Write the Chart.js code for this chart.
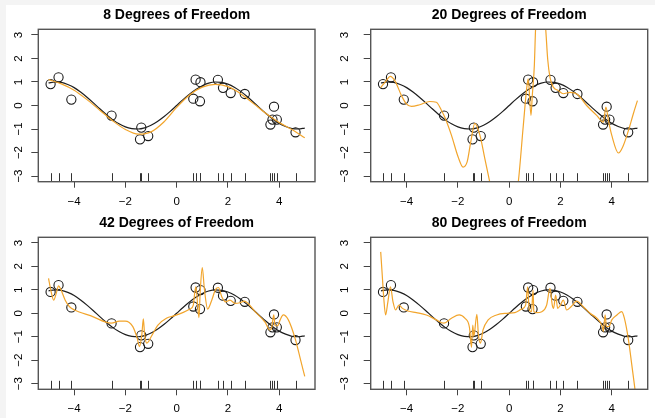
<!DOCTYPE html>
<html><head><meta charset="utf-8">
<script src="https://cdn.jsdelivr.net/npm/chart.js@4.4.1/dist/chart.umd.min.js"></script>
<style>
html,body{margin:0;padding:0;background:#f4f4f4;}
#page{position:absolute;left:0;top:0;width:655px;height:418px;overflow:hidden;}
#white{position:absolute;left:6px;top:5px;width:649px;height:413px;background:#fff;}
canvas{position:absolute;}
</style></head><body>
<div id="page"><div id="white"></div>
<canvas id="c0" width="327" height="209" style="left:0;top:0"></canvas>
<canvas id="c1" width="328" height="209" style="left:327px;top:0"></canvas>
<canvas id="c2" width="327" height="209" style="left:0;top:209px"></canvas>
<canvas id="c3" width="328" height="209" style="left:327px;top:209px"></canvas>
</div>
<script>
// ---------- data ----------
const titles = ["8 Degrees of Freedom", "20 Degrees of Freedom", "42 Degrees of Freedom", "80 Degrees of Freedom"];
const X_TICKS = [-4, -2, 0, 2, 4];
const Y_TICKS = [-3, -2, -1, 0, 1, 2, 3];

const pointX = [-4.92, -4.61, -4.11, -2.54, -1.43, -1.38, -1.11, 0.65, 0.74, 0.91, 0.93, 1.61, 1.81, 2.11, 2.66, 3.66, 3.74, 3.80, 3.91, 4.64];
const pointY = [0.91, 1.20, 0.25, -0.43, -1.44, -0.94, -1.30, 0.29, 1.10, 0.18, 0.99, 1.09, 0.75, 0.53, 0.49, -0.81, -0.60, -0.05, -0.60, -1.14];

const truthX = [-5, -4.75, -4.5, -4.25, -4, -3.75, -3.5, -3.25, -3, -2.75, -2.5, -2.25, -2, -1.75, -1.5, -1.25, -1, -0.75, -0.5, -0.25, 0, 0.25, 0.5, 0.75, 1, 1.25, 1.5, 1.75, 2, 2.25, 2.5, 2.75, 3, 3.25, 3.5, 3.75, 4, 4.25, 4.5, 4.75, 5];
const truthY = [0.96, 1.00, 0.98, 0.89, 0.76, 0.57, 0.35, 0.11, -0.14, -0.38, -0.60, -0.78, -0.91, -0.98, -1.00, -0.95, -0.84, -0.68, -0.48, -0.25, 0, 0.25, 0.48, 0.68, 0.84, 0.95, 1.00, 0.98, 0.91, 0.78, 0.60, 0.38, 0.14, -0.11, -0.35, -0.57, -0.76, -0.89, -0.98, -1.00, -0.96];

const fit8X = [-5, -4.5, -4, -3.5, -3, -2.5, -2, -1.5, -1, -0.5, 0, 0.5, 1, 1.5, 2, 2.5, 3, 3.5, 4, 4.5, 5];
const fit8Y = [1.10, 0.92, 0.65, 0.25, -0.20, -0.65, -1.02, -1.22, -1.12, -0.70, -0.08, 0.45, 0.78, 0.90, 0.80, 0.50, 0.08, -0.35, -0.72, -1.02, -1.37];

const fit20X = [-5.01, -4.79, -4.64, -4.46, -4.20, -4.01, -3.81, -3.49, -3.10, -2.84, -2.64, -2.51, -2.25, -1.99, -1.80, -1.64, -1.50, -1.34, -1.14, -0.95, -0.75, -0.5, -0.2, 0.1, 0.35, 0.55, 0.68, 0.74, 0.85, 0.90, 0.98, 1.03, 1.2, 1.42, 1.50, 1.59, 1.72, 1.91, 2.11, 2.37, 2.67, 3.02, 3.41, 3.67, 3.77, 3.87, 4.00, 4.26, 4.45, 4.65, 4.84, 5.0];
const fit20Y = [0.76, 1.06, 1.24, 1.06, 0.42, 0.07, -0.04, 0.03, 0.17, 0.14, -0.21, -0.50, -1.27, -2.19, -2.62, -2.40, -1.56, -0.76, -1.27, -2.26, -3.30, -4.6, -5.6, -5.0, -3.30, -0.85, 0.71, 1.13, -0.42, 0.42, 1.70, 3.30, 5.6, 3.30, 1.98, 1.20, 0.78, 0.64, 0.50, 0.56, 0.47, 0.0, -0.42, -0.71, -0.07, -0.64, -1.27, -2.02, -1.70, -1.06, -0.35, 0.21];

const fit42X = [-5.0, -4.90, -4.80, -4.70, -4.61, -4.51, -4.35, -4.18, -3.98, -3.34, -2.55, -2.23, -2.01, -1.71, -1.54, -1.45, -1.36, -1.30, -1.25, -1.16, -0.99, -0.73, -0.40, -0.08, 0.26, 0.52, 0.65, 0.71, 0.75, 0.87, 0.92, 1.00, 1.08, 1.21, 1.37, 1.52, 1.63, 1.76, 1.91, 2.08, 2.28, 2.47, 2.64, 3.06, 3.45, 3.64, 3.71, 3.79, 3.84, 3.94, 4.04, 4.16, 4.36, 4.62, 4.82, 5.0];
const fit42Y = [1.49, 0.92, 0.56, 0.85, 1.17, 0.99, 0.56, 0.28, 0.14, -0.11, -0.42, -0.33, -0.33, -0.57, -1.06, -1.42, -0.92, -0.24, -0.92, -1.27, -0.99, -0.50, -0.21, -0.10, 0.04, 0.18, 0.35, 0.92, 1.13, -0.19, 0.92, 1.95, 1.06, 0.18, 0.56, 1.02, 1.10, 0.71, 0.49, 0.56, 0.42, 0.45, 0.52, 0.07, -0.38, -0.71, -0.61, -0.07, -0.53, -0.53, -0.28, -0.07, -0.28, -1.06, -1.91, -2.69];

const fit80X = [-5.01, -4.95, -4.89, -4.82, -4.73, -4.63, -4.53, -4.43, -4.30, -4.16, -3.95, -3.62, -3.23, -2.84, -2.55, -2.25, -1.95, -1.73, -1.55, -1.47, -1.42, -1.38, -1.26, -1.20, -1.12, -1.02, -0.82, -0.49, -0.10, 0.22, 0.48, 0.64, 0.72, 0.78, 0.87, 0.93, 0.96, 1.07, 1.27, 1.46, 1.59, 1.68, 1.73, 1.81, 1.89, 1.98, 2.11, 2.24, 2.41, 2.63, 2.89, 3.15, 3.41, 3.63, 3.67, 3.74, 3.79, 3.90, 4.00, 4.20, 4.39, 4.49, 4.65, 4.78, 4.91, 5.0];
const fit80Y = [2.62, 1.63, 0.64, -0.07, 0.49, 1.13, 0.49, 0.14, 0.35, 0.21, 0.10, 0.03, -0.07, -0.28, -0.42, -0.21, -0.07, -0.21, -0.60, -1.45, -0.50, -0.99, -0.04, -0.92, -1.27, -0.71, -0.28, -0.07, 0.0, 0.03, 0.18, 0.35, 1.13, 0.14, 0.07, 0.99, 0.07, 0.03, 0.07, 0.35, 1.06, 0.35, 0.21, 0.78, 0.21, 0.32, 0.56, 0.14, 0.28, 0.52, 0.28, 0.0, -0.20, -0.57, -0.78, -0.07, -0.57, -0.55, -0.28, -0.07, 0.07, -0.21, -1.13, -2.20, -3.30, -4.2];

// ---------- layout (positions/styles, not data) ----------
const FONT = "'Liberation Sans', Arial, Helvetica, sans-serif";
const panels = [
  {id: 'c0', title: titles[0], fx: fit8X,  fy: fit8Y,  yW: 38.3, rPad: 12,  tTop: 7.0, tBot: 5.5, xH: 27.3, yPad: 5.8},
  {id: 'c1', title: titles[1], fx: fit20X, fy: fit20Y, yW: 43.7, rPad: 7.3, tTop: 7.0, tBot: 5.5, xH: 27.3, yPad: 12},
  {id: 'c2', title: titles[2], fx: fit42X, fy: fit42Y, yW: 38.3, rPad: 12,  tTop: 6.0, tBot: 5.5, xH: 28.7, yPad: 5.8},
  {id: 'c3', title: titles[3], fx: fit80X, fy: fit80Y, yW: 43.7, rPad: 7.3, tTop: 6.0, tBot: 5.5, xH: 28.7, yPad: 12}
];

const zip = (xs, ys) => xs.map((x, i) => ({x: x, y: ys[i]}));
const fmt = v => String(v).replace('-', '\u2212');

const boxRugPlugin = {
  id: 'boxRug',
  afterDraw(chart) {
    const {ctx, chartArea: a, scales} = chart;
    ctx.save();
    // rug marks at data x positions
    ctx.strokeStyle = '#333';
    ctx.lineWidth = 1;
    ctx.beginPath();
    pointX.forEach(x => {
      const px = Math.round(scales.x.getPixelForValue(x)) + 0.5;
      ctx.moveTo(px, a.bottom);
      ctx.lineTo(px, a.bottom - 8.5);
    });
    ctx.stroke();
    // frame
    ctx.strokeStyle = '#555';
    ctx.lineWidth = 1.4;
    ctx.strokeRect(a.left, a.top, a.right - a.left, a.bottom - a.top);
    ctx.restore();
  }
};

panels.forEach(p => {
  new Chart(document.getElementById(p.id), {
    type: 'scatter',
    data: {
      datasets: [
        {data: zip(p.fx, p.fy), showLine: true, borderColor: '#F2A52C', borderWidth: 1.2, pointRadius: 0,
         cubicInterpolationMode: 'monotone', clip: 0, order: 0},
        {data: zip(truthX, truthY), showLine: true, borderColor: '#1e1e1e', borderWidth: 1.2, pointRadius: 0,
         cubicInterpolationMode: 'monotone', clip: 0, order: 1},
        {data: zip(pointX, pointY), showLine: false, pointRadius: 4.6, pointBorderWidth: 1.1,
         pointBorderColor: '#1a1a1a', pointBackgroundColor: 'rgba(0,0,0,0)', order: 2}
      ]
    },
    options: {
      responsive: false, animation: false, devicePixelRatio: 1,
      events: [],
      layout: {padding: {left: 0, right: p.rPad, top: 0, bottom: 0}},
      plugins: {
        legend: {display: false}, tooltip: {enabled: false},
        title: {display: true, text: p.title, fullSize: false, color: '#000',
                font: {family: FONT, size: 14, weight: 'bold', lineHeight: 1.2},
                padding: {top: p.tTop, bottom: p.tBot}}
      },
      scales: {
        x: {
          type: 'linear', min: -5.4, max: 5.4,
          afterBuildTicks: s => { s.ticks = X_TICKS.map(v => ({value: v})); },
          afterFit: s => { s.height = p.xH; },
          grid: {drawOnChartArea: false, drawTicks: true, tickLength: 6, color: '#444', lineWidth: 1},
          border: {display: false},
          ticks: {color: '#000', font: {family: FONT, size: 11.5}, padding: 7, minRotation: 0, maxRotation: 0,
                  autoSkip: false, callback: v => fmt(v)}
        },
        y: {
          type: 'linear', min: -3.24, max: 3.24,
          afterBuildTicks: s => { s.ticks = Y_TICKS.map(v => ({value: v})); },
          afterFit: s => { s.width = p.yW; },
          grid: {drawOnChartArea: false, drawTicks: true, tickLength: 7, color: '#444', lineWidth: 1},
          border: {display: false},
          ticks: {color: '#000', font: {family: FONT, size: 11.5}, padding: p.yPad, minRotation: 90, maxRotation: 90,
                  crossAlign: 'center', autoSkip: false, callback: v => fmt(v)}
        }
      }
    },
    plugins: [boxRugPlugin]
  });
});
</script>
</body></html>
